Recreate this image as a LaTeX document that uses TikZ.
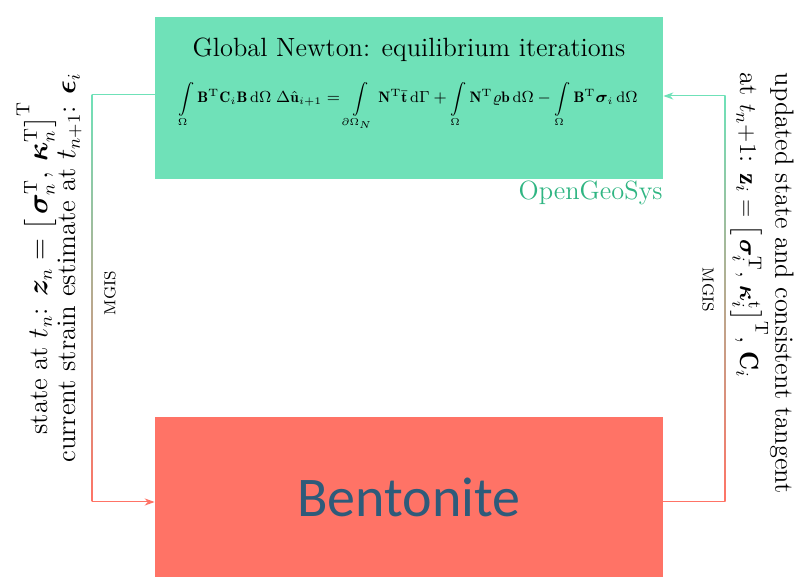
\documentclass[tikz,border=0pt]{standalone}
\usepackage{amsmath,amssymb}
\usepackage{bm}
\usepackage{fontspec}
\newfontfamily\bentfont{Carlito}
\usepackage{tikz}
\usetikzlibrary{arrows.meta,positioning}
\definecolor{ogsgreen}{HTML}{6FE1B8}
\definecolor{ogstext}{HTML}{2FB582}
\definecolor{bentred}{HTML}{FF7366}
\definecolor{benttext}{HTML}{2E5B7A}
\newcommand{\tightlines}{\fontsize{13.4}{14}\selectfont\lineskiplimit=-100pt\relax}

\begin{document}
\begin{tikzpicture}[x=0.5pt, y=-0.5pt, >={Stealth[length=5pt,width=3.6pt]},
  box/.style={draw=none, minimum width=254pt, minimum height=81pt, inner sep=0pt},
  conn/.style={line width=0.5pt},
  big/.style={font=\fontsize{13.2}{15.5}\selectfont, inner sep=0pt},
  side/.style={big, align=center},
  mgis/.style={font=\footnotesize, inner sep=0pt}]
\useasboundingbox (0,0) rectangle (810,577);
% the two codes
\node[box, fill=ogsgreen] (ogs) at (409,98.5) {};
\node[box, fill=bentred, minimum height=80pt,
  font=\bentfont\fontsize{28}{34}\selectfont, text=benttext] (bent) at (409,497) {Bentonite};
\node[big] (title) at (409,50) {Global Newton: equilibrium iterations};
\node[font=\fontsize{7.6}{9}\selectfont, inner sep=0pt, anchor=base] (eq) at (408,103)
  {$\displaystyle\int\limits_\Omega \mathbf{B}^\mathrm{T}\mathbf{C}_i\mathbf{B}\,\mathrm{d}\Omega\;
   \Delta\hat{\mathbf{u}}_{i+1} = \int\limits_{\partial\Omega_N} \mathbf{N}^\mathrm{T}\bar{\mathbf{t}}\,\mathrm{d}\Gamma
   + \int\limits_\Omega \mathbf{N}^\mathrm{T}\varrho\mathbf{b}\,\mathrm{d}\Omega
   - \int\limits_\Omega \mathbf{B}^\mathrm{T}\bm{\sigma}_i\,\mathrm{d}\Omega$};
\node[big, text=ogstext, anchor=base east] (ogslbl) at (663,200) {OpenGeoSys};
% corners of the connectors
\coordinate (lt) at (92,95);
\coordinate (lb) at (92,502);
\coordinate (rt) at (725,96);
\coordinate (rb) at (725,502);
% left connector: OGS -> Bentonite
\draw[conn, ogsgreen] (lt -| ogs.west) -- (lt);
\shade[top color=ogsgreen, bottom color=bentred] ([xshift=-0.25pt]lt) rectangle ([xshift=0.25pt]lb);
\draw[conn, ->, bentred] (lb) -- (lb -| bent.west);
% right connector: Bentonite -> OGS
\draw[conn, bentred] (rb -| bent.east) -- (rb);
\shade[top color=ogsgreen, bottom color=bentred] ([xshift=-0.25pt]rt) rectangle ([xshift=0.25pt]rb);
\draw[conn, ->, ogsgreen] (rt) -- (rt -| ogs.east);
\node[mgis, rotate=90] (mgisl) at (110,293) {MGIS};
\node[mgis, rotate=-90] (mgisr) at (708,290) {MGIS};
% transferred quantities
\node[side, font=\tightlines, rotate=90] (sent) at (49,268)
  {state at $t_n$: $\bm{z}_n = \bigl[\,\bm{\sigma}_n^\mathrm{T},\, \bm{\kappa}_n^\mathrm{T}\bigr]^\mathrm{T}$\\
   current strain estimate at $t_{n+1}$: $\bm{\epsilon}_i$};
\node[side, rotate=-90, align=left] (back) at (762,283)
  {updated state and consistent tangent\\
   at $t_n{+}1$: $\mathbf{z}_i = \left[\,\bm{\sigma}_i^\mathrm{T},\, \bm{\kappa}_i^\mathrm{t}\right]^\mathrm{T}$, $\mathbf{C}_i$};
\end{tikzpicture}
\end{document}
